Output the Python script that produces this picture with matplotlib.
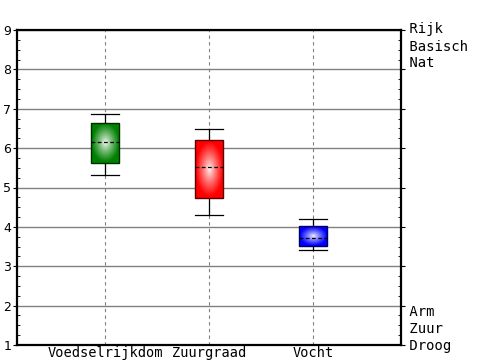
import numpy as np
import matplotlib
matplotlib.use("Agg")
import matplotlib.pyplot as plt
from matplotlib.colors import to_rgb

categories = ["Voedselrijkdom", "Zuurgraad", "Vocht"]
whis_lo = [5.32, 4.30, 3.41]
q1 = [5.61, 4.74, 3.51]
median = [6.15, 5.52, 3.71]
q3 = [6.64, 6.21, 4.01]
whis_hi = [6.87, 6.49, 4.19]
colors = ["#008000", "#ff0000", "#0000ff"]
top_labels = ["Rijk", "Basisch", "Nat"]
top_pos = [9.02, 8.58, 8.15]
bot_labels = ["Arm", "Zuur", "Droog"]
bot_pos = [1.83, 1.41, 0.98]

fig = plt.figure(figsize=(5, 3.6), dpi=100)
ax = fig.add_axes([17/500, 15/360, 384/500, 315/360])

positions = np.arange(1, len(categories) + 1)
width = 0.27
stats = []
for i, c in enumerate(categories):
    stats.append(dict(label=c, med=median[i], q1=q1[i], q3=q3[i],
                      whislo=whis_lo[i], whishi=whis_hi[i], fliers=[]))

bp = ax.bxp(stats, positions=positions, widths=width, patch_artist=True,
            showfliers=False, manage_ticks=False,
            boxprops=dict(linewidth=1.0),
            whiskerprops=dict(color="black", linewidth=0.9),
            capprops=dict(color="black", linewidth=0.9),
            medianprops=dict(color="black", linewidth=0.9, linestyle=(0, (3, 2))),
            capwidths=width * 1.0, zorder=3)

for i, patch in enumerate(bp["boxes"]):
    col = np.array(to_rgb(colors[i]))
    patch.set_facecolor(colors[i])
    patch.set_edgecolor(col * 0.35)
    ny, nx = 100, 100
    yy, xx = np.mgrid[-1:1:ny * 1j, -1:1:nx * 1j]
    r = np.sqrt(xx ** 2 + yy ** 2)
    t = np.clip(r / 0.95, 0, 1) ** 0.8
    img = (1 - t[..., None]) * np.ones(3) + t[..., None] * col
    im = ax.imshow(img, extent=(positions[i] - width / 2, positions[i] + width / 2,
                                q1[i], q3[i]),
                   aspect="auto", zorder=3.5, interpolation="bilinear")
    im.set_clip_path(patch)
for l in bp["medians"]:
    l.set_zorder(4)
for l in bp["boxes"]:
    l.set_zorder(3.6)
    l.set_facecolor("none")

ax.set_xlim(0.154, 3.846)
ax.set_ylim(1, 9)
ax.set_xticks(positions)
ax.set_xticklabels(categories, family="DejaVu Sans Mono", fontsize=9.8)
ax.tick_params(axis="x", length=0, pad=1)
ax.set_yticks(range(1, 10))
ax.set_yticks(np.arange(1, 9.01, 0.25), minor=True)
ax.tick_params(axis="y", which="major", length=3, direction="out", labelsize=9, pad=1)
ax.tick_params(axis="y", which="minor", length=2, direction="in")

ax.grid(axis="y", color="#808080", linewidth=1.0, linestyle="-", zorder=1)
for p in positions:
    ax.axvline(p, color="#808080", linewidth=0.8, linestyle=(0, (3, 3)), zorder=1)
ax.set_axisbelow(True)

for s in ax.spines.values():
    s.set_linewidth(1.6)
    s.set_zorder(5)

ax2 = ax.twinx()
ax2.set_ylim(1, 9)
ax2.set_yticks(range(1, 10))
ax2.set_yticklabels([])
ax2.set_yticks(np.arange(1, 9.01, 0.25), minor=True)
ax2.tick_params(axis="y", which="major", length=3, direction="out")
ax2.tick_params(axis="y", which="minor", length=2, direction="in")
for lab, p in zip(top_labels + bot_labels, top_pos + bot_pos):
    ax2.text(1.0, p, " " + lab, transform=ax2.get_yaxis_transform(),
             ha="left", va="center", family="DejaVu Sans Mono", fontsize=10)
for s in ax2.spines.values():
    s.set_visible(False)

fig.savefig("out.png", dpi=100)
